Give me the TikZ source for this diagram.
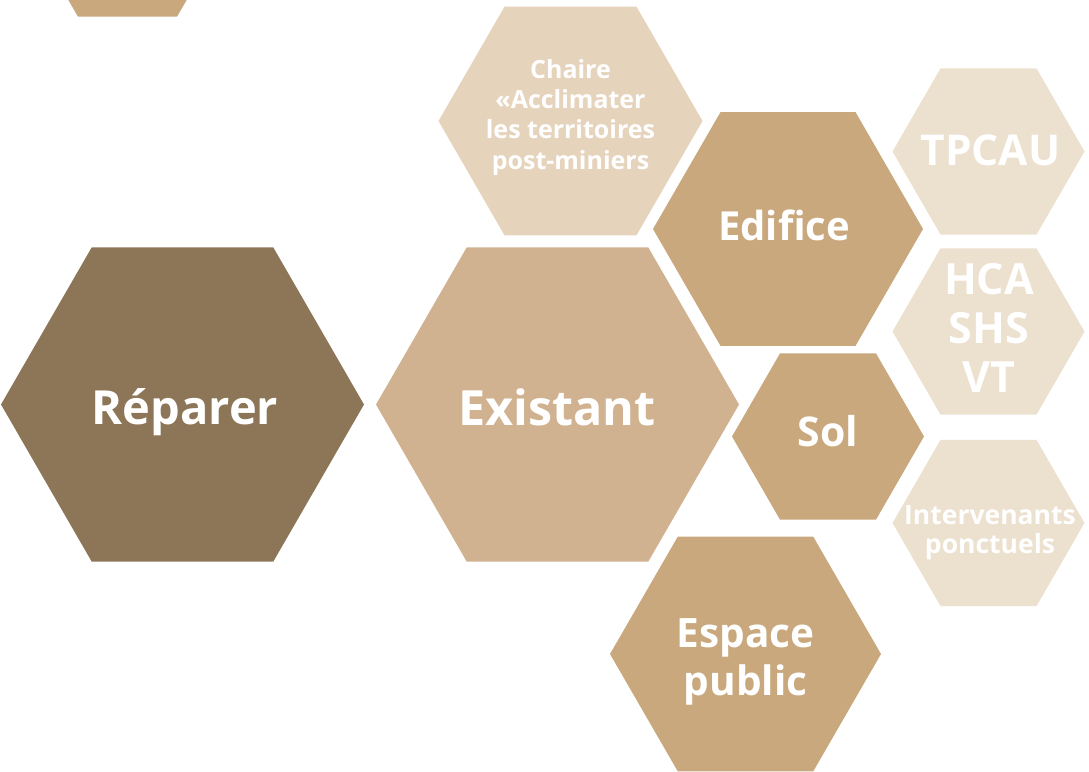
\documentclass[tikz,border=0pt]{standalone}
\usepackage{fontspec}
\setmainfont{Open Sans}
\usetikzlibrary{shapes.geometric}
\definecolor{cDark}{HTML}{8C7657}
\definecolor{cExist}{HTML}{D0B290}
\definecolor{cMid}{HTML}{C9A87D}
\definecolor{cChaire}{HTML}{E6D3BC}
\definecolor{cLight}{HTML}{ECE0CE}
\tikzset{
  hexa/.style={regular polygon, regular polygon sides=6, inner sep=0pt, outer sep=0pt, draw=none, fill=#1},
  lbl/.style={text=white, align=center, inner sep=0pt, anchor=base},
}
\newcommand{\fsz}[2]{\bfseries\fontsize{#1}{#2}\selectfont}
\begin{document}
\begin{tikzpicture}[x=1pt,y=-1pt]
\useasboundingbox (0,0) rectangle (1089,771);
\begin{scope}
\clip (0,0) rectangle (1089,771);
\node[hexa=cMid, minimum size=198pt] (top) at (127.5,-69) {};
\node[hexa=cDark, minimum size=363pt] (rep) at (182.5,404.5) {};
\node[hexa=cExist, minimum size=363pt] (exi) at (557.5,404.5) {};
\node[hexa=cChaire, minimum size=264pt] (cha) at (570.5,121) {};
\node[hexa=cMid, minimum size=270pt] (edi) at (788,229) {};
\node[hexa=cMid, minimum size=192pt] (sol) at (828,436.5) {};
\node[hexa=cMid, minimum size=271pt] (esp) at (745.5,654) {};
\node[hexa=cLight, minimum size=192pt] (tpc) at (988.5,151.5) {};
\node[hexa=cLight, minimum size=192pt] (hca) at (988.5,331.5) {};
\node[hexa=cLight, minimum size=192pt] (int) at (988.5,523) {};
\end{scope}
\node[lbl, font=\fsz{47}{47}] (trep) at (185,424) {Réparer};
\node[lbl, font=\fsz{48.5}{48.5}] (texi) at (557,425) {Existant};
\node[lbl, font=\fsz{25}{30.3}] (tcha) at (570.5,169) {Chaire\\«Acclimater\\les territoires\\post-miniers};
\node[lbl, font=\fsz{40}{40}] (tedi) at (784,240) {Edifice};
\node[lbl, font=\fsz{41}{41}] (tsol) at (828,446) {Sol};
\node[lbl, font=\fsz{40.5}{48}] (tesp) at (745.5,695) {Espace\\public};
\node[lbl, font=\fsz{42.5}{42.5}] (ttpc) at (990.5,165) {TPCAU};
\node[lbl, font=\fsz{43}{49}] (thca) at (989,392) {HCA\\SHS\\VT};
\node[lbl, font=\fsz{26.5}{28.5}] (tint) at (990,553) {Intervenants\\ponctuels};
\end{tikzpicture}
\end{document}
